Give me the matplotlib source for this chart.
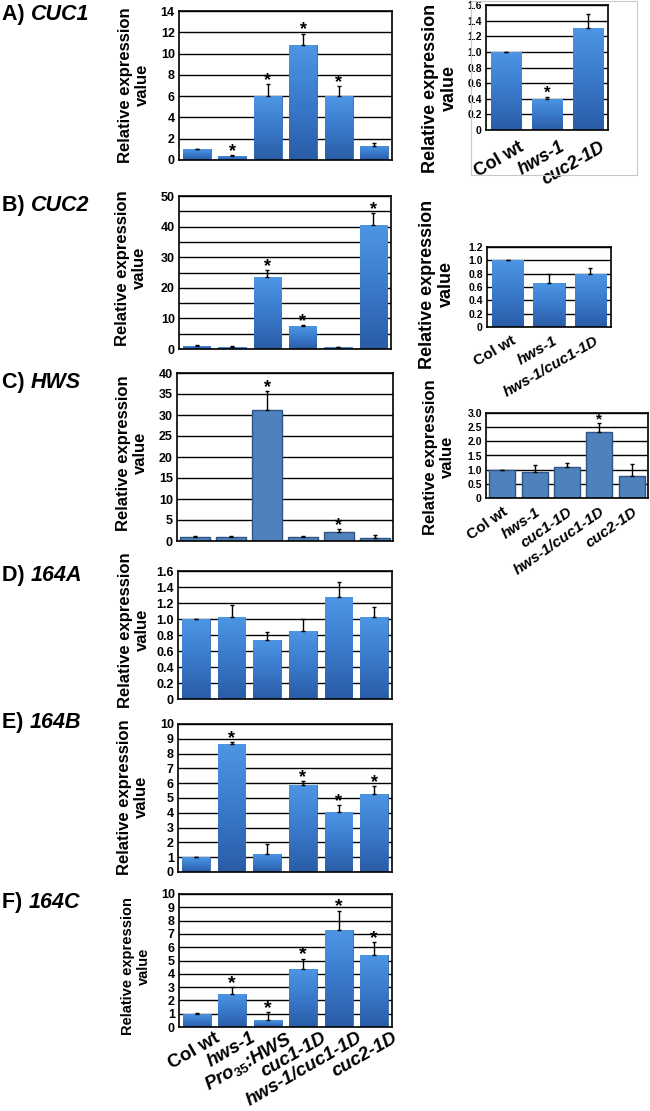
import numpy as np
import matplotlib
matplotlib.use('Agg')
import matplotlib.pyplot as plt
from matplotlib.colors import LinearSegmentedColormap
from matplotlib.transforms import ScaledTranslation
from matplotlib.patches import Rectangle

plt.rcParams['font.family'] = ['Liberation Sans', 'DejaVu Sans']
plt.rcParams['font.weight'] = 'bold'
plt.rcParams['mathtext.fontset'] = 'custom'
plt.rcParams['mathtext.rm'] = 'Liberation Sans:bold'
plt.rcParams['mathtext.it'] = 'Liberation Sans:italic:bold'
plt.rcParams['mathtext.bf'] = 'Liberation Sans:bold'

# ---------------- data ----------------
genotypes_main = ['Col wt', 'hws-1', r'$\mathit{Pro}_{35}$:HWS', 'cuc1-1D', 'hws-1/cuc1-1D', 'cuc2-1D']

cuc1_vals = [1.0, 0.38, 6.0, 10.8, 6.0, 1.32]
cuc1_err = [0.05, 0.06, 1.1, 1.05, 0.95, 0.25]
cuc1_sig = [False, True, True, True, True, False]

cuc1_side_labels = ['Col wt', 'hws-1', 'cuc2-1D']
cuc1_side_vals = [1.0, 0.4, 1.31]
cuc1_side_err = [0.0, 0.02, 0.17]
cuc1_side_sig = [False, True, False]

cuc2_vals = [1.0, 0.65, 23.4, 7.5, 0.65, 40.5]
cuc2_err = [0.2, 0.25, 2.4, 0.35, 0.15, 3.8]
cuc2_sig = [False, False, True, True, False, True]

cuc2_side_labels = ['Col wt', 'hws-1', 'hws-1/cuc1-1D']
cuc2_side_vals = [1.0, 0.655, 0.79]
cuc2_side_err = [0.0, 0.135, 0.09]
cuc2_side_sig = [False, False, False]

hws_vals = [0.87, 0.87, 31.2, 1.0, 2.2, 0.7]
hws_err = [0.23, 0.23, 4.5, 0.25, 0.6, 0.65]
hws_sig = [False, False, True, False, True, False]

hws_side_labels = ['Col wt', 'hws-1', 'cuc1-1D', 'hws-1/cuc1-1D', 'cuc2-1D']
hws_side_vals = [1.0, 0.91, 1.1, 2.32, 0.78]
hws_side_err = [0.0, 0.27, 0.15, 0.33, 0.43]
hws_side_sig = [False, False, False, True, False]

mir164a_vals = [1.0, 1.03, 0.74, 0.85, 1.27, 1.02]
mir164a_err = [0.0, 0.145, 0.10, 0.15, 0.19, 0.13]
mir164a_sig = [False] * 6

mir164b_vals = [1.0, 8.62, 1.24, 5.87, 4.04, 5.26]
mir164b_err = [0.03, 0.14, 0.68, 0.25, 0.47, 0.52]
mir164b_sig = [False, True, False, True, True, True]

mir164c_vals = [1.0, 2.49, 0.5, 4.37, 7.29, 5.45]
mir164c_err = [0.02, 0.51, 0.63, 0.78, 1.45, 0.91]
mir164c_sig = [False, True, True, True, True, True]

panel_letters = ['A)', 'B)', 'C)', 'D)', 'E)', 'F)']
panel_genes = ['CUC1', 'CUC2', 'HWS', '164A', '164B', '164C']

# ---------------- figure ----------------
W, H = 650, 1111
fig = plt.figure(figsize=(W / 100, H / 100), dpi=100)

grad_cmap = LinearSegmentedColormap.from_list('bar', ['#2a5ca6', '#3a7acb', '#4d96e4'])
gradient = np.linspace(0, 1, 256).reshape(-1, 1)


def px_axes(x0, y0, x1, y1):
    return fig.add_axes([x0 / W, 1 - y1 / H, (x1 - x0) / W, (y1 - y0) / H])


def fmt_tick(v, dec):
    if abs(v) < 1e-9:
        return '0'
    return f'{v:.{dec}f}'


def draw(ax, vals, errs, sig, ymax, step, dec=0, grid_step=None, flat=False,
         width=0.78, tick_fs=9, star_fs=13):
    n = len(vals)
    x = np.arange(n)
    if flat:
        bars = ax.bar(x, vals, width, color='#4f81bd', edgecolor='#2f5585',
                      linewidth=1.0, zorder=2)
    else:
        bars = ax.bar(x, vals, width, color='#3a78c8', edgecolor='#3569b0',
                      linewidth=0.6, zorder=2)
        for b in bars:
            bx, by = b.get_x(), b.get_y()
            im = ax.imshow(gradient, extent=[bx, bx + b.get_width(), by, by + b.get_height()],
                           origin='lower', cmap=grad_cmap, aspect='auto', zorder=2.5,
                           interpolation='bilinear')
            im.set_clip_path(b)
    ax.errorbar(x, vals, yerr=[np.zeros(n), errs], fmt='none', ecolor='black',
                elinewidth=1.0, capsize=1.2, capthick=1.0, zorder=4)
    for xi, v, e, s in zip(x, vals, errs, sig):
        if s:
            ax.annotate('*', xy=(xi, v + e), xytext=(0, -0.5), textcoords='offset points',
                        ha='center', va='baseline', fontsize=star_fs, fontweight='bold',
                        zorder=5)
    ax.set_xlim(-0.5, n - 0.5)
    ax.set_ylim(0, ymax)
    ticks = np.arange(0, ymax + step / 2, step)
    ax.set_yticks(ticks)
    ax.set_yticklabels([fmt_tick(t, dec) for t in ticks], fontsize=tick_fs, fontweight='bold')
    if grid_step:
        ax.set_yticks(np.arange(0, ymax + grid_step / 2, grid_step), minor=True)
    ax.yaxis.grid(True, which='both', color='black', linewidth=1.0)
    ax.set_axisbelow(True)
    ax.tick_params(axis='y', which='both', length=0, pad=3)
    for sp in ax.spines.values():
        sp.set_linewidth(1.2)
        sp.set_color('black')
    ax.set_xticks([])


def xlabels(ax, labels, fs, rot, dx_px, pad):
    ax.set_xticks(np.arange(len(labels)))
    ax.set_xticklabels(labels, rotation=rot, ha='right', va='top',
                       rotation_mode='anchor', fontsize=fs, fontweight='bold')
    ax.tick_params(axis='x', length=0, pad=pad)
    for t in ax.get_xticklabels():
        if t.get_text() != 'Col wt':
            t.set_fontstyle('italic')
        t.set_transform(t.get_transform() + ScaledTranslation(dx_px / 100, 0, fig.dpi_scale_trans))


def ylab(xc, yc, fs):
    fig.text(xc / W, 1 - yc / H, 'Relative expression\nvalue', rotation=90,
             ha='center', va='center', multialignment='center', fontsize=fs,
             fontweight='bold', linespacing=1.15)


def panel_label(y, letter, gene):
    t = fig.text(2 / W, 1 - y / H, letter + ' ', ha='left', va='baseline',
                 fontsize=15.5, fontweight='bold')
    axA.annotate(gene, xy=(1, 0), xycoords=t, ha='left', va='bottom',
                 fontsize=15.5, fontweight='bold', fontstyle='italic',
                 annotation_clip=False)


# A
axA = px_axes(179, 11, 392, 160)
draw(axA, cuc1_vals, cuc1_err, cuc1_sig, 14, 2)
axA2 = px_axes(486, 5, 608, 130)
draw(axA2, cuc1_side_vals, cuc1_side_err, cuc1_side_sig, 1.6, 0.2, dec=1,
     width=0.74, tick_fs=7.5, star_fs=12)
xlabels(axA2, cuc1_side_labels, 13, 30, 12, 6)
fig.patches.append(Rectangle((471 / W, 1 - 175 / H), (637 - 471) / W, 174 / H,
                             transform=fig.transFigure, fill=False,
                             edgecolor='#c8c8c8', linewidth=0.8))

# B
axB = px_axes(179, 196, 391, 349)
draw(axB, cuc2_vals, cuc2_err, cuc2_sig, 50, 10, grid_step=5)
axB2 = px_axes(487, 247, 611, 327)
draw(axB2, cuc2_side_vals, cuc2_side_err, cuc2_side_sig, 1.2, 0.2, dec=1,
     width=0.76, tick_fs=7.5, star_fs=12)
xlabels(axB2, cuc2_side_labels, 11, 30, 4, 5)

# C
axC = px_axes(177, 373, 393, 541)
draw(axC, hws_vals, hws_err, hws_sig, 40, 5, flat=True, width=0.82)
axC2 = px_axes(486, 413, 648, 498)
draw(axC2, hws_side_vals, hws_side_err, hws_side_sig, 3.0, 0.5, dec=1, flat=True,
     width=0.8, tick_fs=7.5, star_fs=11)
xlabels(axC2, hws_side_labels, 11, 35, 0, 5)

# D
axD = px_axes(178, 571, 392, 699)
draw(axD, mir164a_vals, mir164a_err, mir164a_sig, 1.6, 0.2, dec=1)

# E
axE = px_axes(178, 724, 392, 872)
draw(axE, mir164b_vals, mir164b_err, mir164b_sig, 10, 1)

# F
axF = px_axes(179, 894, 392, 1027)
draw(axF, mir164c_vals, mir164c_err, mir164c_sig, 10, 1, star_fs=14)
xlabels(axF, genotypes_main, 13.5, 30, 18, 1.5)

# y labels
ylab(134, 85, 12)
ylab(440, 88, 13)
ylab(131, 268, 12)
ylab(437, 284, 13)
ylab(132, 453, 12)
ylab(439, 457, 12)
ylab(134, 630, 12)
ylab(133, 797, 12)
ylab(136, 966, 10.5)

# panel labels
for yb, letter, gene in zip([20, 211, 388, 581, 728, 908], panel_letters, panel_genes):
    panel_label(yb, letter, gene)

fig.savefig('out.png', dpi=100)
